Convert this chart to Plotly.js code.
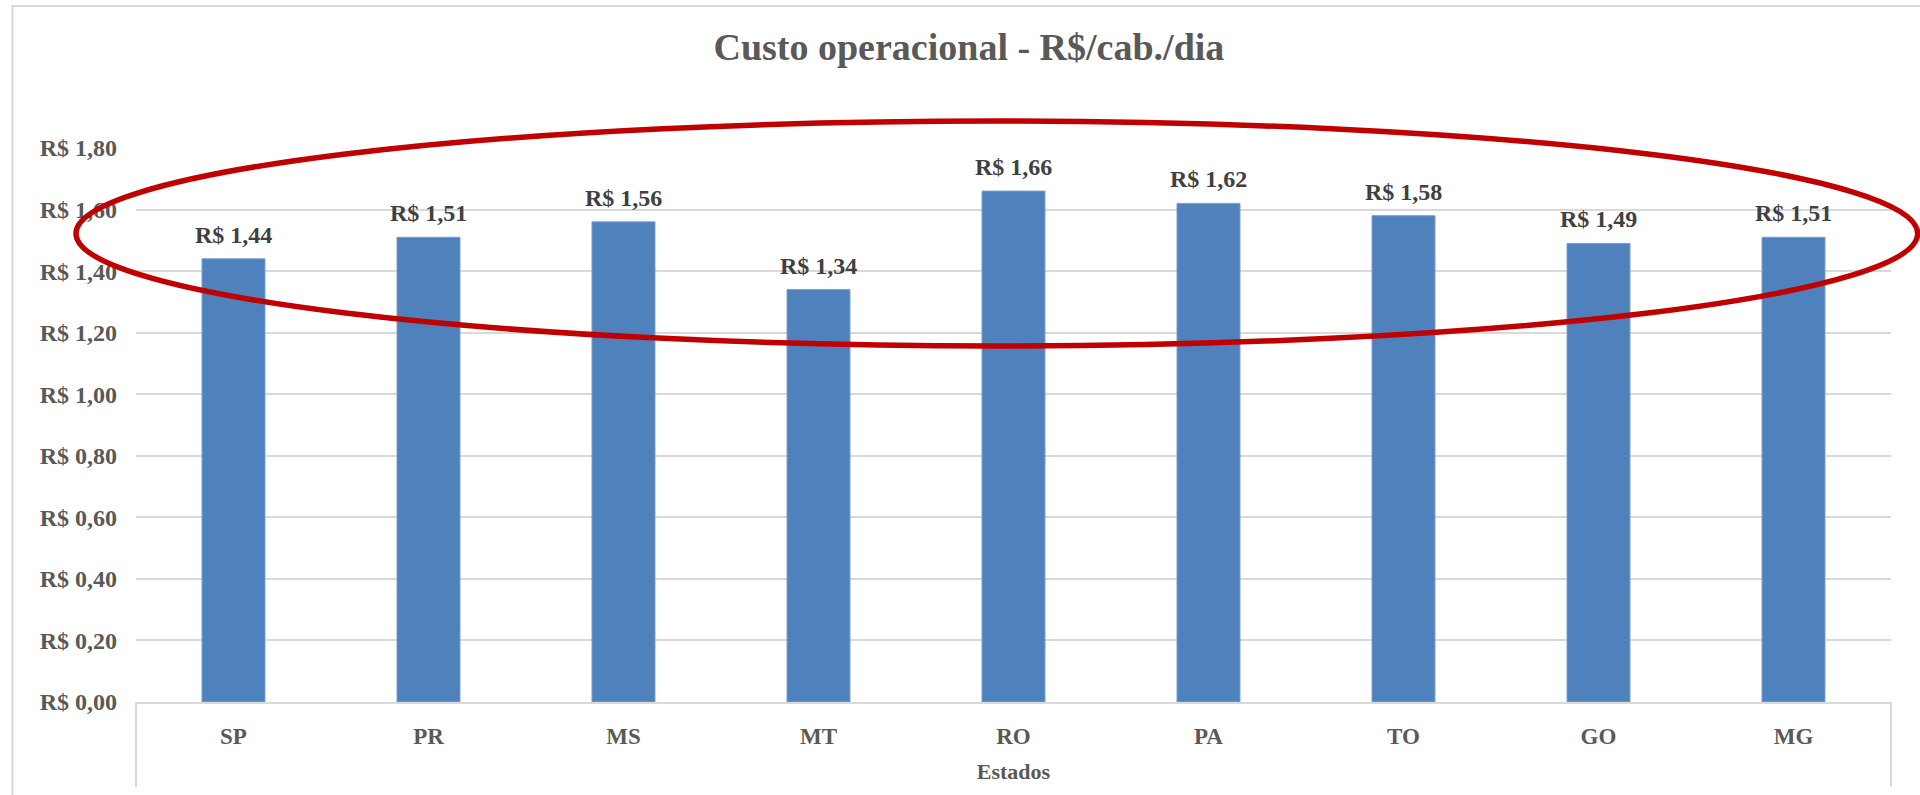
<!DOCTYPE html>
<html>
<head>
<meta charset="utf-8">
<script src="https://cdn.plot.ly/plotly-3.0.1.min.js"></script>
<style>
html,body{margin:0;padding:0;background:#fff;}
#chart{width:1920px;height:795px;}
</style>
</head>
<body>
<div id="chart"></div>
<script>
// Data
const estados = ["SP", "PR", "MS", "MT", "RO", "PA", "TO", "GO", "MG"];
const custo = [1.44, 1.51, 1.56, 1.34, 1.66, 1.62, 1.58, 1.49, 1.51];
const yTicks = [0, 0.2, 0.4, 0.6, 0.8, 1.0, 1.2, 1.4, 1.6, 1.8];

const fmt = v => "R$ " + v.toFixed(2).replace(".", ",");
const labels = custo.map(fmt);
const yTickText = yTicks.map(fmt);

const FONT = "'Liberation Serif', 'Times New Roman', serif";

const trace = {
  type: "bar",
  x: estados,
  y: custo,
  marker: {color: "#4F81BD", line: {color: "#7A9FCF", width: 1}},
  hoverinfo: "x+y"
};

const dataLabels = estados.map((e, i) => ({
  x: e,
  y: custo[i],
  xref: "x",
  yref: "y",
  text: labels[i],
  showarrow: false,
  yanchor: "bottom",
  yshift: 9,
  font: {family: FONT, size: 24, color: "#404040", weight: "bold"}
}));

const layout = {
  width: 1920,
  height: 795,
  paper_bgcolor: "#ffffff",
  plot_bgcolor: "#ffffff",
  margin: {l: 136, r: 29, t: 148, b: 93},
  bargap: 0.677,
  showlegend: false,
  font: {family: FONT, color: "#595959"},
  title: {
    text: "Custo operacional - R$/cab./dia",
    font: {family: FONT, size: 38, color: "#595959", weight: "bold"},
    xref: "paper",
    x: 0.4746,
    xanchor: "center",
    yref: "container",
    y: 0.9409,
    yanchor: "middle"
  },
  xaxis: {
    type: "category",
    showgrid: false,
    showline: true,
    linecolor: "#D9D9D9",
    linewidth: 2,
    ticks: "",
    ticklabelstandoff: 12,
    tickfont: {family: FONT, size: 23, color: "#595959", weight: "bold"},
    title: {
      text: "Estados",
      font: {family: FONT, size: 22, color: "#595959", weight: "bold"},
      standoff: 16
    }
  },
  yaxis: {
    range: [0, 1.8],
    tickvals: yTicks,
    ticktext: yTickText,
    showgrid: true,
    gridcolor: "#D9D9D9",
    gridwidth: 1.5,
    zeroline: false,
    showline: false,
    ticks: "",
    ticklabelstandoff: 18,
    tickfont: {family: FONT, size: 24, color: "#595959", weight: "bold"}
  },
  annotations: dataLabels,
  shapes: [
    // chart area border
    {type: "rect", xref: "paper", yref: "paper", x0: -0.0704, x1: 1.03, y0: -0.25, y1: 1.2563,
     line: {color: "#D9D9D9", width: 2}, fillcolor: "rgba(0,0,0,0)", layer: "below"},
    // category axis end dividers
    {type: "line", xref: "paper", yref: "paper", x0: 0, x1: 0, y0: 0, y1: -0.153,
     line: {color: "#D9D9D9", width: 2}},
    {type: "line", xref: "paper", yref: "paper", x0: 1, x1: 1, y0: 0, y1: -0.153,
     line: {color: "#D9D9D9", width: 2}},
    // red highlight ellipse
    {type: "circle", xref: "paper", yref: "paper", x0: -0.0342, x1: 1.0152, y0: 0.6426, y1: 1.0487,
     line: {color: "#C00000", width: 5.5}, fillcolor: "rgba(0,0,0,0)", layer: "above"}
  ]
};

Plotly.newPlot("chart", [trace], layout, {displayModeBar: false, responsive: false});
</script>
</body>
</html>
